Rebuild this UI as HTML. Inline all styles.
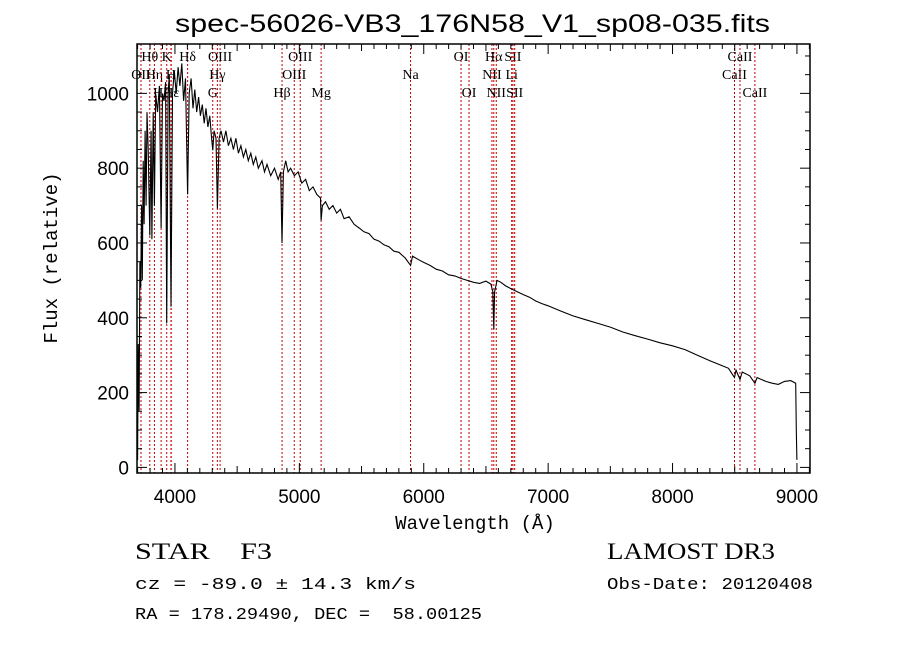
<!DOCTYPE html>
<html><head><meta charset="utf-8"><style>
body{margin:0;background:#fff;}
svg{display:block;font-family:"Liberation Serif",serif;}
.sans{font-family:"Liberation Sans",sans-serif;}
.mono{font-family:"Liberation Mono",monospace;}
</style></head><body>
<svg id="chart" width="900" height="649" viewBox="0 0 900 649">
<rect width="900" height="649" fill="#fff"/>
<text x="175" y="32" textLength="595" lengthAdjust="spacingAndGlyphs" font-size="25" class="sans">spec-56026-VB3_176N58_V1_sp08-035.fits</text>
<g id="lines"></g>
<g id="ticks"></g>
<path id="spec" fill="none" stroke="#000" stroke-width="1.1"/>
<rect x="137" y="44" width="673" height="429" fill="none" stroke="#000" stroke-width="1.5"/>
<text x="475" y="529" text-anchor="middle" font-size="19" class="mono">Wavelength (Å)</text>
<text transform="translate(57,258) rotate(-90)" text-anchor="middle" font-size="19" class="mono">Flux (relative)</text>
<text x="135" y="559" font-size="23" textLength="137" lengthAdjust="spacingAndGlyphs" xml:space="preserve">STAR    F3</text>
<text x="607" y="559" font-size="23" textLength="168" lengthAdjust="spacingAndGlyphs">LAMOST DR3</text>
<text x="135" y="589" font-size="17" textLength="281" lengthAdjust="spacingAndGlyphs" class="mono">cz = -89.0 ± 14.3 km/s</text>
<text x="607" y="589" font-size="17" textLength="206" lengthAdjust="spacingAndGlyphs" class="mono">Obs-Date: 20120408</text>
<text x="135" y="619" font-size="17" textLength="347" lengthAdjust="spacingAndGlyphs" class="mono" xml:space="preserve">RA = 178.29490, DEC =  58.00125</text>
</svg>
<script>
const waves=[3700,3705,3712,3718,3725,3732,3738,3745,3752,3760,3768,3775,3785,3798,3808,3815,3825,3835,3845,3860,3875,3889,3900,3912,3925,3934,3945,3955,3968,3980,3995,4010,4025,4040,4055,4070,4085,4102,4115,4130,4145,4160,4175,4190,4205,4220,4235,4250,4265,4280,4295,4304,4315,4330,4341,4355,4370,4390,4410,4430,4450,4470,4490,4510,4530,4550,4570,4590,4610,4630,4650,4670,4700,4720,4740,4770,4800,4830,4850,4861,4872,4890,4910,4930,4960,4990,5020,5050,5080,5110,5140,5170,5175,5185,5210,5240,5270,5300,5330,5360,5400,5440,5480,5520,5560,5600,5640,5680,5720,5760,5800,5850,5894,5910,5960,6000,6050,6100,6150,6200,6250,6300,6350,6400,6450,6500,6540,6555,6563,6570,6590,6620,6660,6700,6750,6800,6850,6900,6950,7000,7100,7200,7300,7400,7500,7600,7700,7800,7900,8000,8100,8200,8300,8400,8450,8498,8510,8542,8560,8620,8662,8680,8750,8800,8850,8900,8950,8990,8995,9000];
const flux=[20,330,150,550,480,700,500,820,650,900,700,950,850,620,900,610,950,700,1000,950,1020,640,1000,980,1030,385,1000,1050,430,1000,1060,1000,1070,1020,1080,980,1040,730,1000,1040,960,1010,950,990,940,970,920,960,910,940,880,848,900,880,692,880,900,870,900,860,880,850,880,840,860,830,850,820,840,810,830,800,820,790,810,780,800,770,790,600,790,820,790,800,780,790,760,770,740,750,730,720,660,700,710,690,700,680,690,665,670,650,640,630,625,610,605,595,590,578,575,560,540,565,555,548,540,530,525,515,512,505,500,495,492,498,490,470,370,470,500,495,485,478,470,462,455,445,438,432,418,405,395,385,375,362,352,343,333,325,315,300,285,272,265,240,260,235,255,245,225,240,230,225,222,230,232,225,100,20];
const lineWaves=[3727,3798,3835,3889,3934,3968,3970,4102,4304,4341,4363,4861,4959,5007,5175,5894,6300,6364,6548,6563,6583,6707,6717,6731,8498,8542,8662];
const lineLabels=["OII","Hθ","Hη","Hζ","K","H","Hε","Hδ","G","Hγ","OIII","Hβ","OIII","OIII","Mg","Na","OI","OI","NII","Hα","NII","Li","SII","SII","CaII","CaII","CaII"];
const lineRows=[2,1,2,3,1,2,3,1,3,2,1,3,2,1,3,2,1,3,2,1,3,2,1,3,2,1,3];
const xTicks=[4000,5000,6000,7000,8000,9000];
const yTicks=[0,200,400,600,800,1000];
const X0=137,X1=810,Y0=473,Y1=44;
const xMin=3695,xMax=9105,yMin=-15,yMax=1132;
const sx=w=>X0+(w-xMin)/(xMax-xMin)*(X1-X0);
const sy=f=>Y0-(f-yMin)/(yMax-yMin)*(Y0-Y1);
const NS="http://www.w3.org/2000/svg";
function mk(t,a,p){const e=document.createElementNS(NS,t);for(const k in a)e.setAttribute(k,a[k]);p.appendChild(e);return e;}
let d="";waves.forEach((w,i)=>{d+=(i?"L":"M")+sx(w).toFixed(1)+","+sy(flux[i]).toFixed(1);});
document.getElementById("spec").setAttribute("d",d);
const lg=document.getElementById("lines");
lineWaves.forEach((w,i)=>{
 const l=mk("line",{x1:sx(w),x2:sx(w),y1:Y1,y2:Y0,stroke:"#c00000","stroke-width":1,"stroke-dasharray":"2,2"},lg);
 
 
 const t=mk("text",{x:sx(w),y:Y1+18*lineRows[i]-1,"text-anchor":"middle","font-size":14},lg);
 t.textContent=lineLabels[i];
 
 
});
const tg=document.getElementById("ticks");
for(let w=3700;w<=9100;w+=100){const L=w%1000==0?10:(w%500==0?7:5);
 mk("line",{x1:sx(w),x2:sx(w),y1:Y0,y2:Y0-L,stroke:"#000"},tg);mk("line",{x1:sx(w),x2:sx(w),y1:Y1,y2:Y1+L,stroke:"#000"},tg);}
for(let f=0;f<=1100;f+=50){const L=f%200==0?10:5;
 mk("line",{x1:X0,x2:X0+L,y1:sy(f),y2:sy(f),stroke:"#000"},tg);mk("line",{x1:X1,x2:X1-L,y1:sy(f),y2:sy(f),stroke:"#000"},tg);}
xTicks.forEach(w=>{const t=mk("text",{x:sx(w),y:503,"text-anchor":"middle","font-size":19,class:"sans"},tg);t.textContent=w;
 
 });
yTicks.forEach(f=>{const t=mk("text",{x:129,y:sy(f)+7,"text-anchor":"end","font-size":19,class:"sans"},tg);t.textContent=f;
 
 });
</script>
</body></html>
